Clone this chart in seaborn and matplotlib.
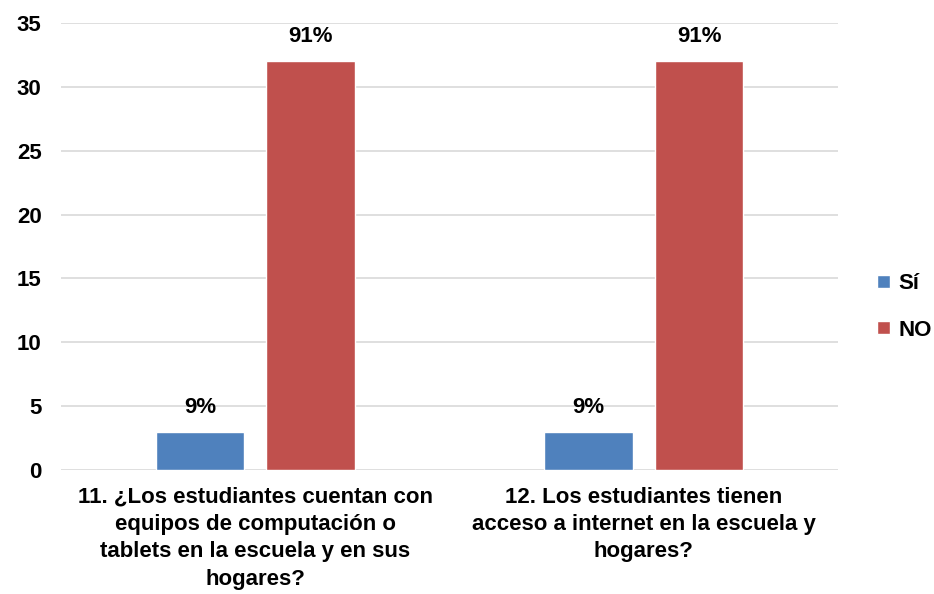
import matplotlib
matplotlib.use("Agg")
import matplotlib.pyplot as plt
import seaborn as sns
import pandas as pd

categories = ["11. ¿Los estudiantes cuentan con\nequipos de computación o\ntablets en la escuela y en sus\nhogares?",
              "12. Los estudiantes tienen\nacceso a internet en la escuela y\nhogares?"]
series_names = ["Sí", "NO"]
si_values = [3, 3]
no_values = [32, 32]
si_labels = ["9%", "9%"]
no_labels = ["91%", "91%"]
yticks = [0, 5, 10, 15, 20, 25, 30, 35]
colors = ["#4F81BD", "#C0504D"]

sns.set_theme(style="white")
plt.rcParams['font.family'] = ['Liberation Sans', 'DejaVu Sans']
plt.rcParams['font.weight'] = 'bold'

FS = 16

df = pd.DataFrame({
    "cat": categories * 2,
    "serie": [series_names[0]] * 2 + [series_names[1]] * 2,
    "val": si_values + no_values,
})

fig = plt.figure(figsize=(9.34, 5.94), dpi=100)
ax = fig.add_axes([61/934, 1 - 470/594, (838-61)/934, (470-23)/594])
sns.barplot(data=df, x="cat", y="val", hue="serie", palette=colors, width=0.57, gap=0.2,
            ax=ax, saturation=1, errorbar=None, zorder=3)

ax.set_ylim(0, 35)
ax.set_yticks(yticks)
ax.yaxis.grid(True, color="#d9d9d9", linewidth=1.2, zorder=0)
ax.set_axisbelow(True)
for s in ax.spines.values():
    s.set_visible(False)
ax.set_xlabel("")
ax.set_ylabel("")
ax.tick_params(axis="both", length=0, labelsize=FS, colors="#000000")
ax.tick_params(axis="y", pad=14)
ax.tick_params(axis="x", pad=12)
for t in ax.get_xticklabels():
    t.set_fontweight("bold")
    t.set_linespacing(1.4)
for t in ax.get_yticklabels():
    t.set_fontweight("bold")

for cont, labs in zip(ax.containers, [si_labels, no_labels]):
    ax.bar_label(cont, labels=labs, padding=10, fontsize=FS, fontweight="bold", color="#000000")

handles, labels = ax.get_legend_handles_labels()
leg = ax.legend(handles, labels, loc="center left", bbox_to_anchor=(1.025, 0.365), frameon=False,
                prop={"size": FS, "weight": "bold"}, handlelength=0.55, handleheight=0.55,
                labelspacing=1.15, handletextpad=0.4)
for t in leg.get_texts():
    t.set_color("#000000")

fig.savefig("out.png", dpi=100)
